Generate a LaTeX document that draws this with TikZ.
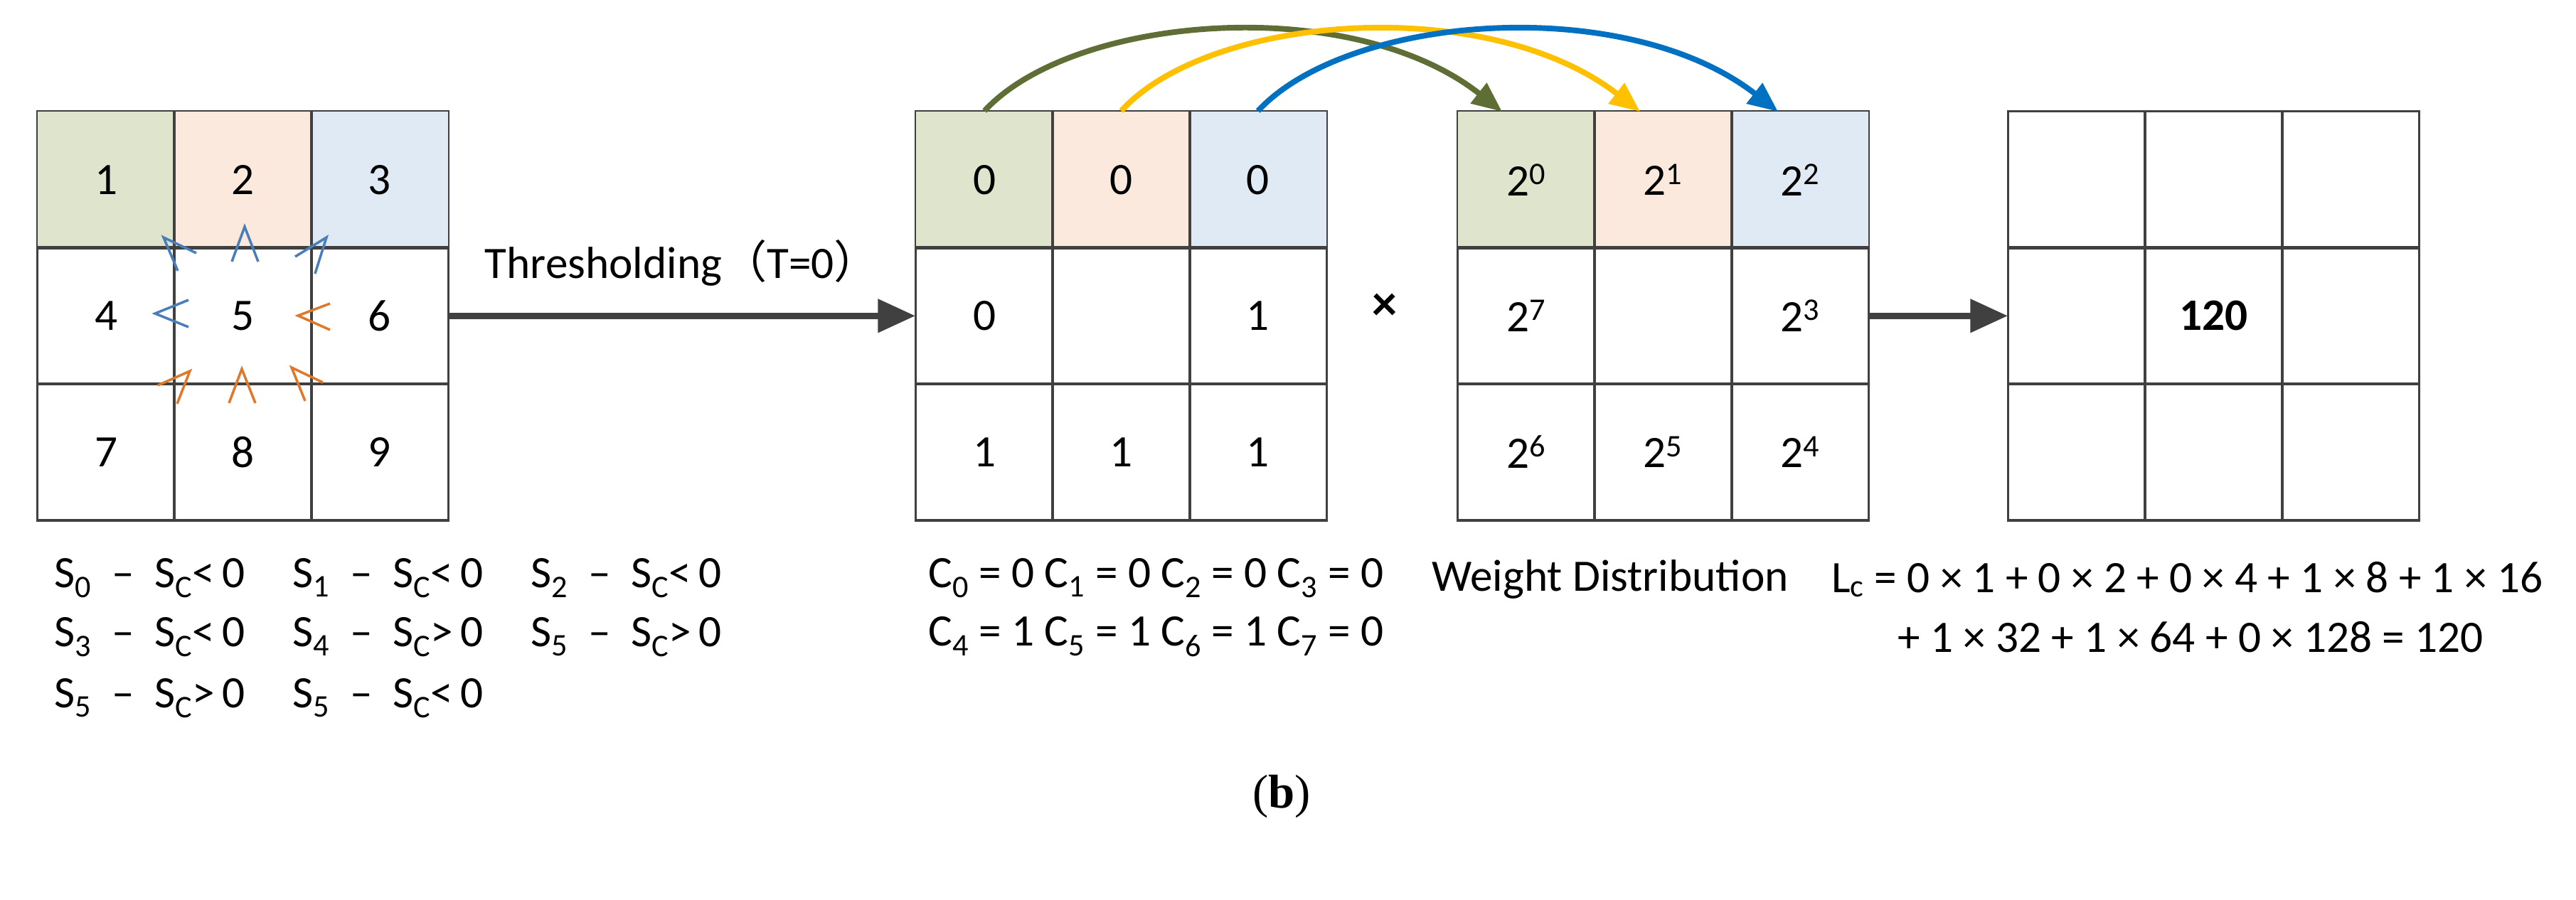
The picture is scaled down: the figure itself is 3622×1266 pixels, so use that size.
\documentclass[tikz,border=0pt]{standalone}
\usepackage{fontspec}
\setmainfont{Carlito}
\newfontfamily\seriffont{Liberation Serif}
\newfontfamily\cjk{Noto Sans CJK SC}
\usetikzlibrary{arrows.meta}
\definecolor{cg}{HTML}{DFE5CD}
\definecolor{cp}{HTML}{FBE9DD}
\definecolor{cb}{HTML}{E0EAF4}
\definecolor{lg}{HTML}{5E6E35}
\definecolor{ly}{HTML}{FFC000}
\definecolor{lb}{HTML}{0070C0}
\definecolor{sb}{HTML}{4A7EBB}
\definecolor{so}{HTML}{E0782A}
\definecolor{dk}{HTML}{404040}
\begin{document}
\begin{tikzpicture}[x=0.02cm,y=-0.02cm,
  cell/.style={draw=dk,line width=1.2pt,minimum width=3.846cm,minimum height=3.83cm,inner sep=0,anchor=north west,font=\fontsize{36}{40}\selectfont},
  txt/.style={anchor=west,inner sep=0,font=\fontsize{36}{42}\selectfont},
  big/.style={dk,line width=5pt,-{Triangle[length=30pt,width=26pt]}},
  curve/.style={line width=4.5pt,-{Triangle[length=24pt,width=20pt]}},
  chev/.style={line width=2pt}]
\useasboundingbox (0,0) rectangle (3622,1266);
% grids
\foreach \g/\xo in {a/52,b/1287,c/2049,d/2823}{
  \foreach \r in {0,1,2}{
    \foreach \c in {0,1,2}{
      \node[cell] (\g-\r-\c) at ({\xo+\c*192.3},{156+\r*191.5}) {};
    }
  }
}
\foreach \g in {a,b,c}{
  \fill[cg] (\g-0-0.north west) rectangle (\g-0-0.south east);
  \fill[cp] (\g-0-1.north west) rectangle (\g-0-1.south east);
  \fill[cb] (\g-0-2.north west) rectangle (\g-0-2.south east);
}
\foreach \g in {a,b,c,d}{
  \foreach \r in {0,1,2}{\foreach \c in {0,1,2}{
    \draw[dk,line width=1.2pt] (\g-\r-\c.north west) rectangle (\g-\r-\c.south east);}}
}
% labels
\foreach \r/\c/\t in {0/0/1,0/1/2,0/2/3,1/0/4,1/1/5,1/2/6,2/0/7,2/1/8,2/2/9}{
  \node[font=\fontsize{36}{40}\selectfont] at (a-\r-\c) {\t};}
\foreach \r/\c/\t in {0/0/0,0/1/0,0/2/0,1/0/0,1/2/1,2/0/1,2/1/1,2/2/1}{
  \node[font=\fontsize{36}{40}\selectfont] at (b-\r-\c) {\t};}
\foreach \r/\c/\t in {0/0/0,0/1/1,0/2/2,1/0/7,1/2/3,2/0/6,2/1/5,2/2/4}{
  \node[font=\fontsize{36}{40}\selectfont] at (c-\r-\c) {2\textsuperscript{\t}};}
\node[font=\bfseries\fontsize{36}{40}\selectfont] at (d-1-1) {120};
% chevrons
\draw[chev,sb] (276,356)--(230,334)--(250,381);
\draw[chev,sb] (326,368)--(344,319)--(363,368);
\draw[chev,sb] (415,361)--(459,334)--(443,385);
\draw[chev,sb] (265,422)--(218,441)--(265,460);
\draw[chev,so] (464,427)--(419,444)--(464,464);
\draw[chev,so] (222,542)--(267,522)--(249,568);
\draw[chev,so] (322,567)--(340,519)--(359,567);
\draw[chev,so] (454,538)--(410,517)--(429,564);
% arrows
\draw[big] (a-1-2.east) -- (b-1-0.west) node[midway,above=18pt,text=black,font=\fontsize{36}{40}\selectfont]{Thresholding{\cjk （}T=0{\cjk ）}};
\draw[big] (c-1-2.east) -- (d-1-0.west);
\node[font=\bfseries\fontsize{40}{44}\selectfont] (times) at (1947,432) {×};
% curves
\coordinate (ge) at (2112,157);
\coordinate (ye) at (2306,157);
\coordinate (be) at (2500,157);
\draw[curve,lg] (b-0-0.north) .. controls (1510,20) and (1900,-10) .. (ge);
\draw[curve,ly] (b-0-1.north) .. controls (1700,20) and (2090,-10) .. (ye);
\draw[curve,lb] (b-0-2.north) .. controls (1895,20) and (2285,-10) .. (be);
% texts
\newcommand{\sx}[3]{S\textsubscript{#1}\hspace{0.45em}–\hspace{0.45em}S\textsubscript{C}#2\,#3}
\node[txt] (s0) at (76,813) {\sx{0}{<}{0}};
\node[txt] (s1) at (411,813) {\sx{1}{<}{0}};
\node[txt] (s2) at (746,813) {\sx{2}{<}{0}};
\node[txt] (s3) at (76,896) {\sx{3}{<}{0}};
\node[txt] (s4) at (411,896) {\sx{4}{>}{0}};
\node[txt] (s5) at (746,896) {\sx{5}{>}{0}};
\node[txt] (s6) at (76,982) {\sx{5}{>}{0}};
\node[txt] (s7) at (411,982) {\sx{5}{<}{0}};
\node[txt] (c1) at (1305,813) {C\textsubscript{0} = 0 C\textsubscript{1} = 0 C\textsubscript{2} = 0 C\textsubscript{3} = 0};
\node[txt] (c2) at (1305,896) {C\textsubscript{4} = 1 C\textsubscript{5} = 1 C\textsubscript{6} = 1 C\textsubscript{7} = 0};
\node[inner sep=0,font=\fontsize{36}{42}\selectfont] (wd) at (2264,815) {Weight Distribution};
\node[txt] (l1) at (2575,815) {L\textsubscript{c} = 0 × 1 + 0 × 2 + 0 × 4 + 1 × 8 + 1 × 16};
\node[inner sep=0,font=\fontsize{36}{42}\selectfont] (l2) at (3080,896) {+ 1 × 32 + 1 × 64 + 0 × 128 = 120};
\node[font=\seriffont\fontsize{38}{42}\selectfont] (cap) at (1802,1120) {(\textbf{b})};
\end{tikzpicture}
\end{document}
